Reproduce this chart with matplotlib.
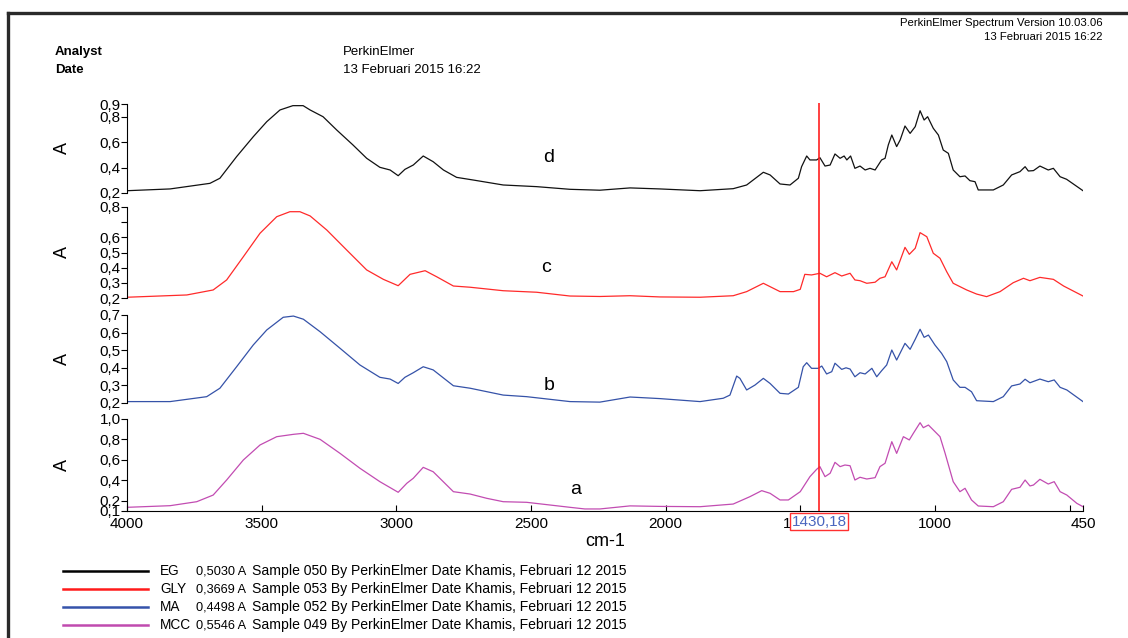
import matplotlib
matplotlib.use("Agg")
import matplotlib.pyplot as plt
import matplotlib.transforms as mtransforms
from matplotlib.lines import Line2D
from matplotlib.ticker import FixedLocator, FuncFormatter

plt.rcParams["font.family"] = ["Liberation Sans", "DejaVu Sans"]

# (wavenumber cm-1, absorbance A)
EG = [(4000, 0.218), (3840, 0.232), (3692, 0.276), (3655, 0.316), (3593, 0.486), (3531, 0.643),
      (3481, 0.761), (3432, 0.853), (3384, 0.887), (3346, 0.887), (3320, 0.853), (3272, 0.80),
      (3221, 0.695), (3161, 0.578), (3110, 0.473), (3061, 0.402), (3023, 0.381), (2993, 0.336),
      (2968, 0.386), (2937, 0.42), (2900, 0.491), (2863, 0.446), (2825, 0.381), (2776, 0.323),
      (2714, 0.302), (2603, 0.263), (2479, 0.25), (2355, 0.229), (2244, 0.222), (2132, 0.24),
      (2021, 0.232), (1872, 0.218), (1749, 0.234), (1699, 0.263), (1637, 0.363), (1612, 0.342),
      (1575, 0.271), (1538, 0.263), (1507, 0.316), (1495, 0.407), (1476, 0.491), (1464, 0.46),
      (1439, 0.46), (1427, 0.478), (1408, 0.412), (1389, 0.42), (1371, 0.507), (1352, 0.473),
      (1337, 0.491), (1327, 0.46), (1313, 0.491), (1297, 0.394), (1278, 0.412), (1259, 0.381),
      (1241, 0.394), (1222, 0.381), (1198, 0.46), (1185, 0.473), (1173, 0.578), (1160, 0.656),
      (1142, 0.565), (1129, 0.617), (1111, 0.727), (1092, 0.669), (1073, 0.722), (1055, 0.847),
      (1040, 0.774), (1027, 0.80), (1006, 0.709), (987, 0.656), (969, 0.538), (950, 0.512),
      (932, 0.381), (907, 0.328), (888, 0.334), (870, 0.297), (851, 0.289), (839, 0.224),
      (783, 0.224), (746, 0.263), (715, 0.342), (684, 0.368), (665, 0.407), (653, 0.373),
      (634, 0.376), (610, 0.412), (579, 0.381), (560, 0.394), (535, 0.328), (511, 0.308),
      (450, 0.218)]

GLY = [(4000, 0.205), (3778, 0.22), (3680, 0.253), (3630, 0.319), (3568, 0.472), (3506, 0.627),
       (3444, 0.736), (3395, 0.769), (3358, 0.769), (3320, 0.741), (3258, 0.648), (3184, 0.516),
       (3110, 0.385), (3048, 0.323), (2993, 0.281), (2949, 0.356), (2893, 0.38), (2850, 0.34),
       (2788, 0.279), (2726, 0.271), (2603, 0.248), (2479, 0.238), (2355, 0.213), (2244, 0.21),
       (2132, 0.215), (2021, 0.207), (1872, 0.205), (1749, 0.215), (1699, 0.242), (1637, 0.297),
       (1575, 0.242), (1525, 0.242), (1500, 0.257), (1483, 0.356), (1458, 0.352), (1427, 0.363),
       (1402, 0.34), (1371, 0.367), (1346, 0.345), (1315, 0.363), (1297, 0.319), (1278, 0.314),
       (1253, 0.297), (1222, 0.304), (1204, 0.33), (1185, 0.34), (1160, 0.439), (1142, 0.385),
       (1111, 0.534), (1095, 0.488), (1073, 0.528), (1055, 0.631), (1030, 0.604), (1006, 0.495),
       (981, 0.462), (956, 0.373), (932, 0.297), (882, 0.253), (845, 0.226), (808, 0.209),
       (758, 0.242), (709, 0.301), (671, 0.33), (647, 0.314), (610, 0.336), (560, 0.323),
       (522, 0.279), (450, 0.213)]

MA = [(4000, 0.208), (3840, 0.208), (3704, 0.236), (3655, 0.284), (3593, 0.406), (3531, 0.53),
      (3481, 0.615), (3420, 0.687), (3382, 0.694), (3345, 0.676), (3283, 0.605), (3209, 0.511),
      (3135, 0.416), (3061, 0.346), (3023, 0.336), (2993, 0.311), (2968, 0.346), (2937, 0.372),
      (2900, 0.406), (2863, 0.388), (2788, 0.298), (2726, 0.284), (2603, 0.245), (2516, 0.236),
      (2355, 0.208), (2244, 0.205), (2132, 0.234), (2021, 0.225), (1872, 0.208), (1786, 0.227),
      (1761, 0.245), (1736, 0.353), (1724, 0.34), (1699, 0.274), (1668, 0.302), (1637, 0.34),
      (1612, 0.311), (1575, 0.255), (1544, 0.251), (1507, 0.289), (1489, 0.406), (1476, 0.429),
      (1458, 0.397), (1433, 0.397), (1420, 0.41), (1402, 0.365), (1383, 0.378), (1371, 0.426),
      (1346, 0.391), (1330, 0.4), (1315, 0.393), (1297, 0.349), (1278, 0.372), (1259, 0.365),
      (1234, 0.397), (1216, 0.349), (1198, 0.383), (1179, 0.416), (1160, 0.501), (1142, 0.444),
      (1111, 0.539), (1092, 0.505), (1073, 0.562), (1055, 0.619), (1040, 0.573), (1024, 0.586),
      (1000, 0.53), (975, 0.482), (956, 0.435), (932, 0.331), (907, 0.289), (888, 0.289),
      (864, 0.264), (845, 0.213), (783, 0.208), (746, 0.236), (715, 0.297), (684, 0.308),
      (665, 0.335), (647, 0.315), (610, 0.336), (579, 0.321), (557, 0.331), (535, 0.289),
      (510, 0.274), (450, 0.208)]

MCC = [(4000, 0.136), (3840, 0.152), (3741, 0.191), (3680, 0.256), (3630, 0.403), (3568, 0.599),
       (3506, 0.746), (3444, 0.827), (3382, 0.85), (3345, 0.86), (3283, 0.801), (3209, 0.664),
       (3135, 0.518), (3061, 0.387), (2993, 0.283), (2961, 0.371), (2937, 0.42), (2900, 0.527),
       (2863, 0.484), (2788, 0.289), (2726, 0.266), (2664, 0.224), (2603, 0.191), (2516, 0.185),
       (2355, 0.136), (2300, 0.12), (2244, 0.12), (2132, 0.15), (2021, 0.145), (1872, 0.142),
       (1749, 0.168), (1687, 0.24), (1643, 0.299), (1612, 0.273), (1575, 0.208), (1544, 0.208),
       (1500, 0.289), (1464, 0.436), (1439, 0.508), (1427, 0.534), (1408, 0.436), (1389, 0.469),
       (1371, 0.576), (1352, 0.534), (1334, 0.55), (1315, 0.543), (1297, 0.403), (1278, 0.43),
       (1253, 0.413), (1222, 0.426), (1204, 0.534), (1185, 0.567), (1160, 0.778), (1142, 0.664),
       (1117, 0.827), (1095, 0.795), (1080, 0.86), (1055, 0.964), (1043, 0.915), (1024, 0.941),
       (981, 0.827), (962, 0.664), (932, 0.387), (907, 0.289), (888, 0.322), (864, 0.208),
       (839, 0.149), (783, 0.142), (746, 0.191), (715, 0.312), (684, 0.332), (665, 0.403),
       (647, 0.345), (634, 0.354), (610, 0.41), (579, 0.364), (557, 0.387), (535, 0.289),
       (510, 0.256), (473, 0.175), (450, 0.142)]

NAMES = ["EG", "GLY", "MA", "MCC"]
PEAK_VALUES = ["0,5030 A", "0,3669 A", "0,4498 A", "0,5546 A"]
SAMPLE_IDS = ["050", "053", "052", "049"]
LETTERS = ["d", "c", "b", "a"]
Y_TICKS = [[0.9, 0.8, 0.6, 0.4, 0.2],
           [0.8, 0.7, 0.6, 0.5, 0.4, 0.3, 0.2],
           [0.7, 0.6, 0.5, 0.4, 0.3, 0.2],
           [1.0, 0.8, 0.6, 0.4, 0.2, 0.1]]
X_TICKS = [4000, 3500, 3000, 2500, 2000, 1500, 1000, 450]
CURSOR = 1430.18

COLORS = ["#111111", "#ff2a2a", "#3552a8", "#c24cb2"]
LEG_COLORS = ["#000000", "#ff1a1a", "#3553aa", "#c04aaf"]
Y_LIMS = [(0.2, 0.9), (0.2, 0.8), (0.2, 0.7), (0.1, 1.0)]
# pixel rows (top, bottom) of each strip in the 1128x638 canvas
ROWS = [(104, 193), (207, 298), (315, 403), (419, 511)]
LETTER_POS = [(549, 157), (546, 267), (549, 385), (576, 489)]

W, H = 1128, 638
fig = plt.figure(figsize=(W / 100, H / 100), dpi=100)
X0, X1 = 127, 1083


def fx(px):
    return px / W


def fy(py):
    return 1 - py / H


def comma(v, pos):
    return f"{v:.1f}".replace(".", ",")


axes = []
for i, data in enumerate([EG, GLY, MA, MCC]):
    top, bot = ROWS[i]
    ax = fig.add_axes([fx(X0), fy(bot), (X1 - X0) / W, (bot - top) / H])
    wn = [p[0] for p in data]
    ab = [p[1] for p in data]
    ax.plot(wn, ab, color=COLORS[i], lw=0.9)
    ax.set_xlim(4000, 450)
    ax.set_ylim(*Y_LIMS[i])
    for s in ["top", "right"]:
        ax.spines[s].set_visible(False)
    ax.spines["left"].set_linewidth(0.8)
    ax.yaxis.set_major_locator(FixedLocator(Y_TICKS[i]))
    if i == 1:
        ax.yaxis.set_major_formatter(FuncFormatter(lambda v, p: "" if abs(v - 0.7) < 1e-6 else comma(v, p)))
    else:
        ax.yaxis.set_major_formatter(FuncFormatter(comma))
    ax.tick_params(axis="y", direction="out", length=4, width=0.8, labelsize=11, pad=0.5)
    if i < 3:
        ax.spines["bottom"].set_visible(False)
        ax.set_xticks([])
    else:
        ax.spines["bottom"].set_linewidth(0.8)
        ax.set_xticks(X_TICKS)
        ax.set_xticklabels([str(t) for t in X_TICKS])
        ax.set_xticks([500], minor=True)
        ax.tick_params(axis="x", which="both", direction="in", length=4, width=0.8,
                       labelsize=11, pad=4)
    fig.text(fx(62), fy((top + bot) / 2), "A", rotation=90, ha="center", va="center", fontsize=13)
    lx, ly = LETTER_POS[i]
    fig.text(fx(lx), fy(ly), LETTERS[i], ha="center", va="center", fontsize=14)
    axes.append(ax)

# cursor line across all strips
cur = fig.add_axes([fx(X0), fy(511), (X1 - X0) / W, (511 - 103) / H])
cur.set_xlim(4000, 450)
cur.set_ylim(0, 1)
cur.axis("off")
cur.axvline(CURSOR, color="#ff2020", lw=1.2)

trans = mtransforms.blended_transform_factory(axes[3].transData, axes[3].transAxes)
axes[3].text(CURSOR, -0.115, f"{CURSOR:.2f}".replace(".", ","), transform=trans, ha="center",
             va="center", fontsize=11, color="#4a66bf", zorder=10,
             bbox=dict(boxstyle="square,pad=0.12", facecolor="white", edgecolor="#ff3030", lw=1))

fig.text(fx(605), fy(541), "cm-1", ha="center", va="center", fontsize=13)

# header
fig.text(fx(55), fy(52), "Analyst", fontsize=9.5, fontweight="bold", va="center")
fig.text(fx(55), fy(70), "Date", fontsize=9.5, fontweight="bold", va="center")
fig.text(fx(343), fy(52), "PerkinElmer", fontsize=9.5, va="center")
fig.text(fx(343), fy(70), "13 Februari 2015 16:22", fontsize=9.5, va="center")
fig.text(fx(1103), fy(23), "PerkinElmer Spectrum Version 10.03.06", fontsize=8.2, ha="right", va="center")
fig.text(fx(1103), fy(37), "13 Februari 2015 16:22", fontsize=8.2, ha="right", va="center")

# legend block
for i, name in enumerate(NAMES):
    y = fy(571 + 18 * i)
    fig.add_artist(Line2D([fx(63), fx(148)], [y, y], transform=fig.transFigure,
                          color=LEG_COLORS[i], lw=1.8))
    fig.text(fx(160), y, name, fontsize=9.8, va="center")
    fig.text(fx(196), y, PEAK_VALUES[i], fontsize=9.2, va="center")
    fig.text(fx(252), y, f"Sample {SAMPLE_IDS[i]} By PerkinElmer Date Khamis, Februari 12 2015",
             fontsize=10.1, va="center")

# page frame
fig.add_artist(Line2D([fx(8), 1], [fy(13), fy(13)], transform=fig.transFigure, color="#2a2a2a", lw=2.4))
fig.add_artist(Line2D([fx(8), fx(8)], [fy(13), 0], transform=fig.transFigure, color="#2a2a2a", lw=2.4))

fig.savefig("out.png", dpi=100, facecolor="white")
